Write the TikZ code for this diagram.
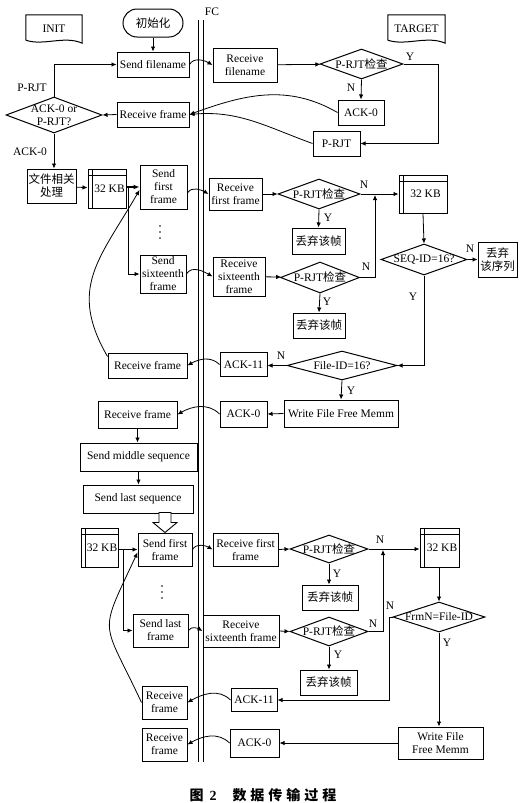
\documentclass[tikz,border=0pt]{standalone}
\usepackage{fontspec}
\setmainfont{Liberation Serif}
\newfontfamily\cjk{Noto Sans CJK SC}
\usetikzlibrary{arrows.meta,shapes.geometric,calc}
\begin{document}
\begin{tikzpicture}[x=1pt,y=1pt,
  txt/.style={font=\fontsize{11.5}{13}\selectfont},
  box/.style={draw, line width=1pt, inner sep=0pt, align=center, txt},
  sz/.style 2 args={minimum width=#1pt, minimum height=#2pt},
  dia/.style={draw, line width=1pt, diamond, inner sep=0pt},
  dtext/.style={txt, inner sep=0pt, align=center},
  lbl/.style={txt, inner sep=0pt},
  conn/.style={line width=0.8pt, -{Latex[length=5pt,width=4.5pt]}},
  plain/.style={line width=0.8pt},
  hump/.style={conn, out=60, in=150},
  back/.style={conn, out=135, in=30},
  dotmark/.style={circle, fill=black, inner sep=0pt, minimum size=1.8pt}
]
\useasboundingbox (0,0) rectangle (522,-803);
\fill[white] (0,0) rectangle (522,-803);

\newcommand\kblines[1]{%
  \draw[line width=0.8pt] ([yshift=-7pt]#1.north west) -- ([yshift=-7pt]#1.north east);
  \draw[line width=0.8pt] ([xshift=5pt]#1.north west) -- ([xshift=5pt]#1.south west);}
\newcommand\docshape[1]{%
  \draw[line width=1pt] ([yshift=3pt]#1.south west) -- (#1.north west) -- (#1.north east) -- (#1.south east)
    .. controls +(-18,8) and +(18,-6) .. ([yshift=3pt]#1.south west);}

% FC double line
\coordinate (fcat) at (198,-20);
\coordinate (fcab) at (198,-762);
\coordinate (fcbt) at (203,-20);
\coordinate (fcbb) at (203,-762);
\draw[line width=0.9pt] (fcat) -- (fcab);
\draw[line width=0.9pt] (fcbt) -- (fcbb);
\node[lbl] (fc) at (212,-12) {FC};

% document shapes
\node[lbl, sz={56}{28}] (init) at (54,-29) {INIT};
\docshape{init}
\node[lbl, sz={57}{28}] (target) at (416.5,-29) {TARGET};
\docshape{target}

% top part
\node[box, sz={60}{28}, rounded corners=14pt] (start) at (153,-23) {\cjk 初始化};
\node[box, sz={72}{25}] (sendfn) at (153,-64.5) {Send filename};
\node[box, sz={64}{34}] (recvfn) at (245,-65) {Receive\\filename};
\node[dia, sz={83}{30}] (chk1) at (361.5,-64) {};
\node[dtext] (chk1t) at (chk1) {P-RJT{\cjk 检查}};
\node[box, sz={46}{25}] (ack0a) at (361,-112.5) {ACK-0};
\node[box, sz={47}{25}] (prjt) at (336.5,-143.5) {P-RJT};
\node[box, sz={72}{25}] (recvf1) at (153,-114.5) {Receive frame};
\node[dia, sz={96}{36}] (dec0) at (54,-115) {};
\node[dtext] (dec0t) at (dec0) {ACK-0 or\\P-RJT?};

\node[lbl] (ly1) at (410,-57) {Y};
\node[lbl] (ln1) at (351,-88) {N};
\node[lbl] (lprjt) at (32,-88) {P-RJT};
\node[lbl] (lack0) at (30,-152) {ACK-0};

\draw[conn] (start) -- (sendfn);
\draw[hump] (sendfn.east) to (recvfn.west);
\draw[conn] (recvfn) -- (chk1);
\draw[conn] (chk1.east) -- (438,-64) |- (prjt.east);
\draw[conn] (chk1.south) -- (ack0a.north);
\draw[conn] (ack0a.west) to[out=150,in=20] (recvf1.east);
\draw[conn] (prjt.west) to[out=160,in=5] (recvf1.east);
\draw[conn] (recvf1.west) -- (dec0.east);
\draw[conn] (dec0.north) |- (sendfn.west);

% first sequence block
\node[box, sz={49}{34}] (file) at (51.5,-186) {\cjk 文件相关\\\cjk 处理};
\draw[conn] (dec0.south) -- (file.north -| dec0.south);
\node[box, sz={38}{39}] (kb1) at (107,-188.5) {\hspace*{5pt}32 KB};
\kblines{kb1}
\node[box, sz={47}{44}] (sf1) at (163.5,-187) {Send\\first\\frame};
\node[dotmark] (d1a) at (160,-226) {};
\node[dotmark] (d1b) at (160,-232) {};
\node[dotmark] (d1c) at (160,-238) {};
\node[box, sz={46}{38}] (ss1) at (163,-274) {Send\\sixteenth\\frame};
\node[box, sz={53}{32}] (rf1) at (235.5,-194) {Receive\\first frame};
\node[box, sz={52}{39}] (rs1) at (239,-276.5) {Receive\\sixteenth\\frame};
\node[dia, sz={82}{30}] (chk2) at (319,-194) {};
\node[dtext] (chk2t) at (chk2) {P-RJT{\cjk 检查}};
\node[box, sz={53}{26}] (disc1) at (318.5,-241) {\cjk 丢弃该帧};
\node[dia, sz={79}{31}] (chk3) at (320,-277.5) {};
\node[dtext] (chk3t) at (chk3) {P-RJT{\cjk 检查}};
\node[box, sz={52}{25}] (disc2) at (319,-325.5) {\cjk 丢弃该帧};
\node[box, sz={48}{38}] (kb2) at (423,-194) {\hspace*{5pt}32 KB};
\kblines{kb2}
\node[dia, sz={86}{31}] (seq) at (424,-259.5) {};
\node[dtext] (seqt) at (seq) {SEQ-ID=16?};
\node[box, sz={39}{35}] (discseq) at (497.5,-259.5) {\cjk 丢弃\\\cjk 该序列};
\node[dia, sz={110}{29}] (fid) at (342,-365.5) {};
\node[dtext] (fidt) at (fid) {File-ID=16?};
\node[box, sz={47}{24}] (ack11a) at (243.5,-364.5) {ACK-11};
\node[box, sz={114}{27}] (wf1) at (341,-413.5) {Write File Free Memm};
\node[box, sz={47}{26}] (ack0b) at (243.5,-414) {ACK-0};
\node[box, sz={79}{25}] (recvf2) at (147.5,-365.5) {Receive frame};
\node[box, sz={79}{27}] (recvf3) at (137.5,-414.5) {Receive frame};
\node[box, sz={117}{28}] (smid) at (138.5,-457) {Send middle sequence};
\node[box, sz={110}{28}] (slast) at (138,-499) {Send last sequence};

\node[lbl] (ln2) at (364,-185) {N};
\node[lbl] (ly2) at (328,-218) {Y};
\node[lbl] (ln3) at (366,-267) {N};
\node[lbl] (ly3) at (327,-302) {Y};
\node[lbl] (ln4) at (470,-249) {N};
\node[lbl] (ly4) at (413,-297) {Y};
\node[lbl] (ln5) at (281,-356) {N};
\node[lbl] (ly5) at (351,-391) {Y};

\draw[conn] (file) -- (kb1);
\draw[line width=1.6pt, -{Latex[length=6pt,width=5pt]}] (kb1.east |- sf1.west) -- (sf1.west);
\draw[conn] ([xshift=2pt]kb1.east |- sf1.west) |- (ss1.west);
\draw[hump] ([yshift=-6pt]sf1.east) to (rf1.west);
\draw[hump] (ss1.east) to (rs1.west);
\draw[conn] (rf1) -- (chk2);
\draw[conn] (rs1) -- (chk3);
\draw[conn] (chk2.east) -- (kb2.west |- chk2.east);
\draw[conn] (chk3.east) -- (375,-277.5) -- (375,-195);
\draw[conn] (chk2.south) -- (disc1.north);
\draw[conn] (chk3.south) -- (disc2.north);
\draw[conn] (kb2.south) -- (seq.north);
\draw[conn] (seq.east) -- (discseq.west);
\draw[conn] (seq.south) |- (fid.east);
\draw[conn] (fid.west) -- (ack11a.east |- fid.west);
\draw[back] (ack11a.west) to (recvf2.east);
\draw[conn, looseness=1.2] ([yshift=-4pt]recvf2.north west) to[out=120,in=240] ([yshift=-3pt]sf1.west);
\draw[conn] (fid.south) -- (wf1.north);
\draw[conn] (wf1.west) -- (ack0b.east);
\draw[back] (ack0b.west) to (recvf3.east);
\draw[conn] (recvf3.south) -- (recvf3.south |- smid.north);
\draw[conn] (smid.south) -- (smid.south |- slast.north);

% second sequence block
\node[box, sz={54}{33}] (sf2) at (165,-549.5) {Send first\\frame};
\draw[line width=0.9pt, fill=white] (sf2.north) -- ++(12,10) -- ++(-6,0) -- ++(0,10) -- ++(-12,0) -- ++(0,-10) -- ++(-6,0) -- cycle;
\node[box, sz={37}{39}] (kb3) at (99.5,-547.5) {\hspace*{5pt}32 KB};
\kblines{kb3}
\node[dotmark] (d2a) at (162,-586) {};
\node[dotmark] (d2b) at (162,-592) {};
\node[dotmark] (d2c) at (162,-598) {};
\node[box, sz={55}{33}] (sl2) at (160.5,-630.5) {Send last\\frame};
\node[box, sz={65}{33}] (rf2) at (245.5,-549.5) {Receive first\\frame};
\node[box, sz={76}{32}] (rs2) at (241,-631) {Receive\\sixteenth frame};
\node[dia, sz={78}{28}] (chk4) at (329,-549) {};
\node[dtext] (chk4t) at (chk4) {P-RJT{\cjk 检查}};
\node[box, sz={56}{25}] (disc3) at (330,-597.5) {\cjk 丢弃该帧};
\node[dia, sz={78}{29}] (chk5) at (329,-631.5) {};
\node[dtext] (chk5t) at (chk5) {P-RJT{\cjk 检查}};
\node[box, sz={57}{25}] (disc4) at (328.5,-682.5) {\cjk 丢弃该帧};
\node[box, sz={39}{39}] (kb4) at (439.5,-547.5) {\hspace*{5pt}32 KB};
\kblines{kb4}
\node[dia, sz={92}{30}] (frm) at (439,-617) {};
\node[dtext] (frmt) at (frm) {FrmN=File-ID};
\node[box, sz={46}{23}] (ack11b) at (254,-700) {ACK-11};
\node[box, sz={85}{32}] (wf2) at (440.5,-743) {Write File\\Free Memm};
\node[box, sz={49}{28}] (ack0c) at (254.5,-743) {ACK-0};
\node[box, sz={45}{33}] (rfb1) at (164.5,-702.5) {Receive\\frame};
\node[box, sz={45}{33}] (rfb2) at (164.5,-744.5) {Receive\\frame};

\node[lbl] (ln6) at (380,-540) {N};
\node[lbl] (ly6) at (337,-574) {Y};
\node[lbl] (ln7) at (373,-624) {N};
\node[lbl] (ly7) at (338,-655) {Y};
\node[lbl] (ln8) at (390,-606) {N};
\node[lbl] (ly8) at (447,-643) {Y};

\draw[conn] (kb3.east |- sf2.west) -- (sf2.west);
\draw[conn] ([xshift=5pt]kb3.east |- sf2.west) |- (sl2.west);
\draw[hump] (sf2.east) to (rf2.west);
\draw[hump] (sl2.east) to (rs2.west);
\draw[conn] (rf2.east) -- (chk4.west);
\draw[conn] (rs2.east) -- (chk5.west);
\draw[conn] (chk4.east) -- (kb4.west |- chk4.east);
\draw[conn] (chk5.east) -- (383,-631.5) -- (383,-550);
\draw[conn] (chk4.south) -- (disc3.north -| chk4.south);
\draw[conn] (chk5.south) -- (disc4.north -| chk5.south);
\draw[conn] (kb4.south -| frm.north) -- (frm.north);
\draw[conn] (frm.west) -- (389,-617) |- (ack11b.east);
\draw[conn] (frm.south) -- (frm.south |- wf2.north);
\draw[conn] (wf2.west) -- (ack0c.east |- wf2.west);
\draw[back] (ack11b.west) to (rfb1.east);
\draw[back] (ack0c.west) to (rfb2.east);
\draw[conn, looseness=1.6] (rfb1.west) to[out=115,in=245] ([yshift=-3pt]sf2.west);

% caption
\node[inner sep=0pt, font=\fontsize{14}{16}\selectfont\bfseries] (title) at (263,-795)
  {{\cjk 图}\hspace{6pt}2\hspace{16pt}{\cjk 数\hspace{4pt}据\hspace{4pt}传\hspace{4pt}输\hspace{4pt}过\hspace{4pt}程}};
\end{tikzpicture}
\end{document}
